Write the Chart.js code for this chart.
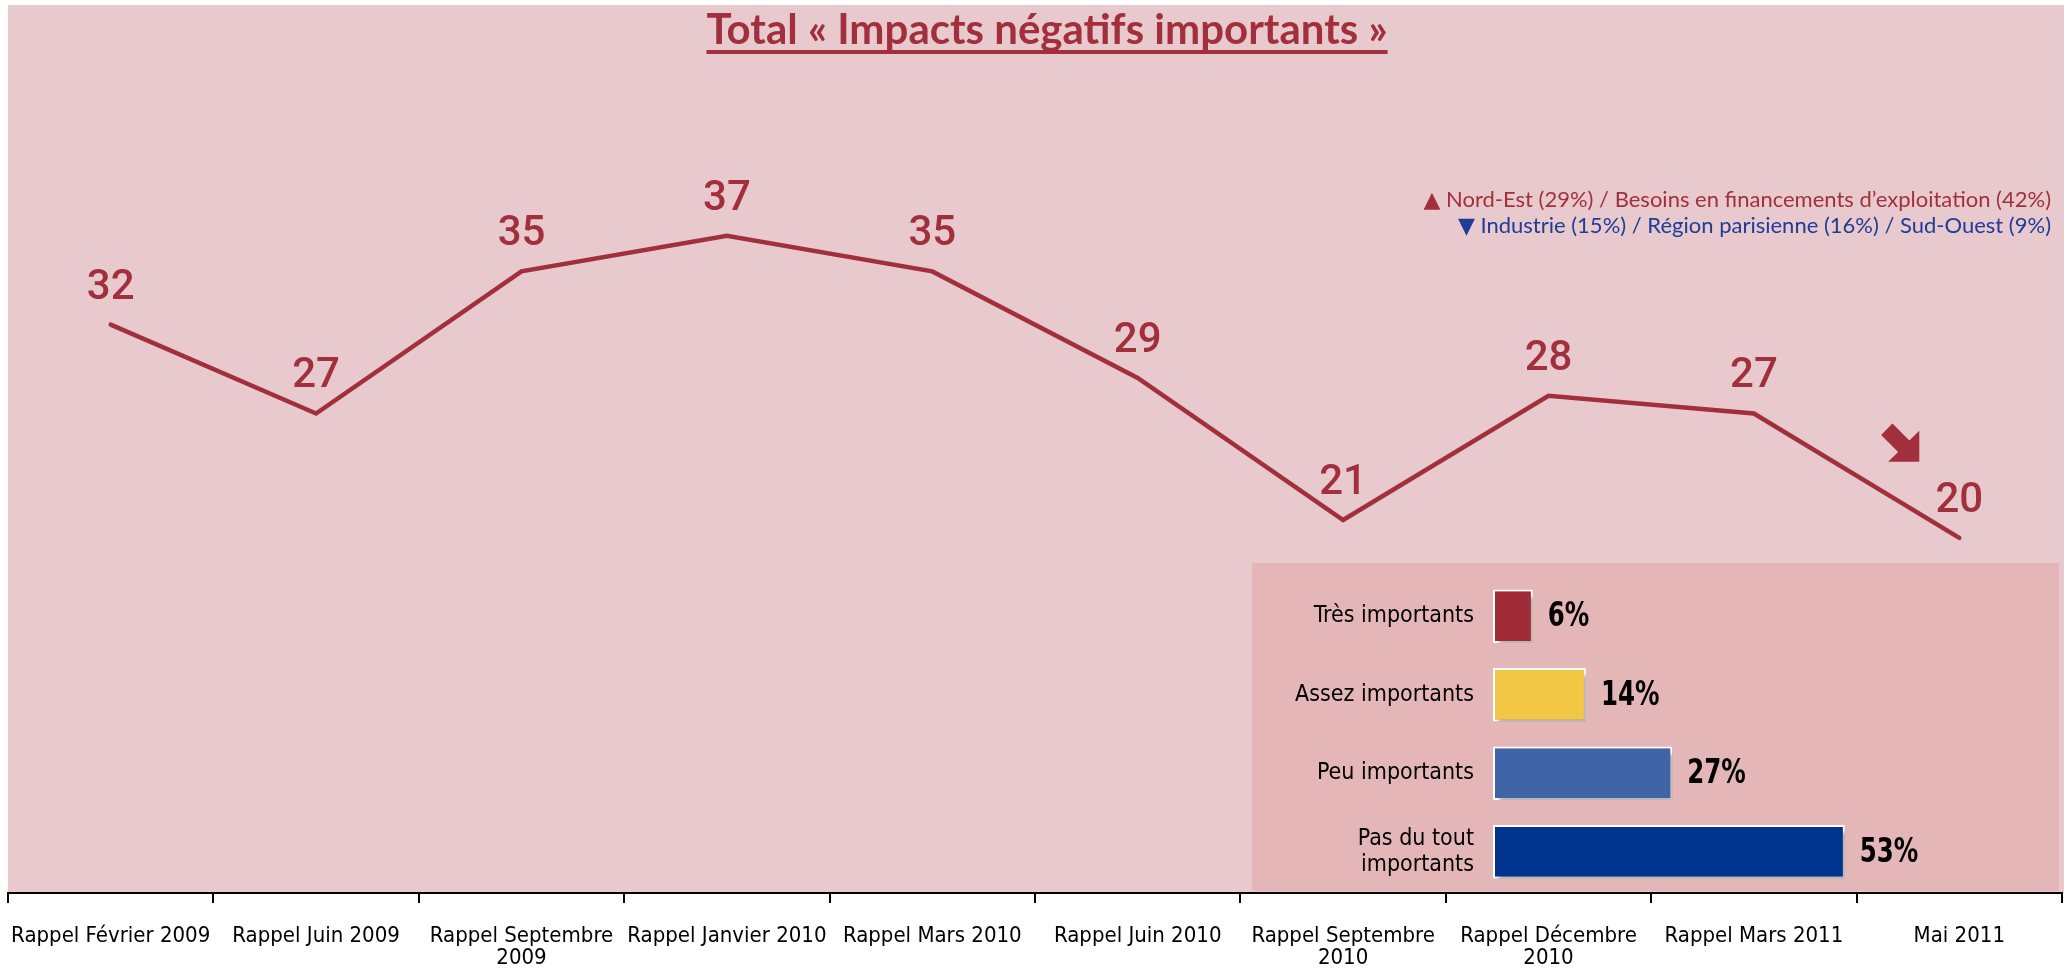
<!DOCTYPE html>
<html>
<head>
<meta charset="utf-8">
<script src="https://cdn.jsdelivr.net/npm/chart.js@4.4.1/dist/chart.umd.min.js"></script>
<style>
  html, body { margin: 0; padding: 0; background: #fff; }
  #wrap { position: relative; width: 2067px; height: 968px; }
  #mainChart { position: absolute; left: 0; top: 0; }
  #inset { position: absolute; left: 1252px; top: 563px; width: 807px; height: 328px; }
</style>
</head>
<body>
<div id="wrap">
  <canvas id="mainChart" width="2067" height="968"></canvas>
  <div id="inset"><canvas id="insetChart" width="807" height="328"></canvas></div>
</div>
<script>
// Waves of the survey
var waveLabels = [
  'Rappel Février 2009', 'Rappel Juin 2009', ['Rappel Septembre', '2009'],
  'Rappel Janvier 2010', 'Rappel Mars 2010', 'Rappel Juin 2010',
  ['Rappel Septembre', '2010'], ['Rappel Décembre', '2010'], 'Rappel Mars 2011', 'Mai 2011'
];
var waveValues = [32, 27, 35, 37, 35, 29, 21, 28, 27, 20];

// Detail for the last wave
var levelLabels = ['Très importants', 'Assez importants', 'Peu importants', ['Pas du tout', 'importants']];
var levelValues = [6, 14, 27, 53];

var titleText = 'Total « Impacts négatifs importants »';
var noteUp = '▲ Nord-Est (29%) / Besoins en financements d’exploitation (42%)';
var noteDown = '▼ Industrie (15%) / Région parisienne (16%) / Sud-Ouest (9%)';

var red = '#A2303C';
var blue = '#1F3C96';
var levelColors = ['#A12C38', '#F2C744', '#3F65A8', '#00348E'];
var narrow = '"Liberation Sans Narrow", "DejaVu Sans Condensed", "Roboto Condensed", sans-serif';

// pink panel behind the line
var panelBg = {
  id: 'panelBg',
  beforeDraw: function (chart) {
    var a = chart.chartArea;
    var ctx = chart.ctx;
    ctx.save();
    ctx.fillStyle = '#E8CACE';
    ctx.fillRect(a.left, a.top, a.right - a.left + 2, a.bottom - a.top);
    ctx.restore();
  }
};

// title, notes, value labels and the trend arrow
var decorations = {
  id: 'decorations',
  afterDatasetsDraw: function (chart) {
    var ctx = chart.ctx;
    var meta = chart.getDatasetMeta(0);
    ctx.save();

    // title (underlined)
    ctx.font = 'bold 42px Lato, "Liberation Sans", sans-serif';
    ctx.fillStyle = red;
    ctx.textAlign = 'center';
    ctx.textBaseline = 'alphabetic';
    var cx = 1047;
    ctx.fillText(titleText, cx, 44);
    var w = ctx.measureText(titleText).width;
    ctx.fillRect(cx - w / 2, 50, w, 4);

    // notes top right
    ctx.font = '22px Lato, "DejaVu Sans", sans-serif';
    ctx.textAlign = 'right';
    ctx.fillStyle = red;
    ctx.fillText(noteUp, 2051, 207);
    ctx.fillStyle = blue;
    ctx.fillText(noteDown, 2051, 233);

    // values above the points
    ctx.font = '500 42px Roboto, sans-serif';
    ctx.fillStyle = red;
    ctx.textAlign = 'center';
    meta.data.forEach(function (pt, i) {
      ctx.fillText(chart.data.datasets[0].data[i], pt.x, pt.y - 26);
    });

    // down arrow near the last wave
    var last = meta.data[meta.data.length - 1];
    ctx.translate(last.x - 40, last.y - 76);
    ctx.rotate(Math.PI / 4);
    ctx.beginPath();
    ctx.moveTo(0, 0);
    ctx.lineTo(-22, -22);
    ctx.lineTo(-22, -8);
    ctx.lineTo(-46, -8);
    ctx.lineTo(-46, 8);
    ctx.lineTo(-22, 8);
    ctx.lineTo(-22, 22);
    ctx.closePath();
    ctx.fill();
    ctx.restore();
  }
};

new Chart(document.getElementById('mainChart'), {
  type: 'line',
  data: {
    labels: waveLabels,
    datasets: [{
      data: waveValues,
      borderColor: red,
      borderWidth: 4.5,
      pointRadius: 0,
      tension: 0,
      borderCapStyle: 'round'
    }]
  },
  options: {
    responsive: false,
    animation: false,
    layout: { padding: { left: 8, right: 5, top: 5, bottom: 0 } },
    plugins: { legend: { display: false }, tooltip: { enabled: false } },
    scales: {
      x: {
        offset: true,
        grid: { display: true, offset: true, drawOnChartArea: false, drawTicks: true, tickLength: 10, color: '#000', lineWidth: 2 },
        border: { display: true, color: '#000', width: 2 },
        ticks: { color: '#000', font: { family: narrow, size: 22, lineHeight: 1.0 }, padding: 22, maxRotation: 0, autoSkip: false },
        afterFit: function (s) {
          s.height = 75;
          s.paddingLeft = 0;
          s.paddingRight = 0;
        }
      },
      y: { display: false, min: 0, max: 50 }
    }
  },
  plugins: [panelBg, decorations]
});

// inset: detail of the last wave
var insetBg = {
  id: 'insetBg',
  beforeDraw: function (chart) {
    var ctx = chart.ctx;
    ctx.save();
    ctx.fillStyle = '#E5B6B8';
    ctx.fillRect(0, 0, chart.width, chart.height);
    ctx.restore();
  }
};
var barShadow = {
  id: 'barShadow',
  beforeDatasetsDraw: function (chart) {
    var ctx = chart.ctx;
    ctx.save();
    ctx.shadowColor = 'rgba(0,0,0,0.28)';
    ctx.shadowOffsetX = 4;
    ctx.shadowOffsetY = 5;
    ctx.shadowBlur = 3;
  },
  afterDatasetsDraw: function (chart) {
    chart.ctx.restore();
  }
};
var barValues = {
  id: 'barValues',
  afterDatasetsDraw: function (chart) {
    var ctx = chart.ctx;
    var meta = chart.getDatasetMeta(0);
    ctx.save();
    ctx.font = 'bold 34px ' + narrow;
    ctx.fillStyle = '#000';
    ctx.textAlign = 'left';
    ctx.textBaseline = 'middle';
    meta.data.forEach(function (bar, i) {
      ctx.save();
      ctx.translate(bar.x + 15, bar.y + 1);
      ctx.scale(0.8, 1);
      ctx.fillText(chart.data.datasets[0].data[i] + '%', 0, 0);
      ctx.restore();
    });
    ctx.restore();
  }
};

new Chart(document.getElementById('insetChart'), {
  type: 'bar',
  data: {
    labels: levelLabels,
    datasets: [{
      data: levelValues,
      backgroundColor: levelColors,
      borderColor: '#fff',
      borderWidth: 2,
      borderSkipped: false,
      barPercentage: 0.68,
      categoryPercentage: 1
    }]
  },
  options: {
    indexAxis: 'y',
    responsive: false,
    animation: false,
    layout: { padding: { left: 0, right: 35, top: 14, bottom: 0 } },
    plugins: { legend: { display: false }, tooltip: { enabled: false } },
    scales: {
      x: { display: false, min: 0, max: 80 },
      y: {
        grid: { display: false, drawTicks: false },
        border: { display: false },
        ticks: { color: '#000', font: { family: narrow, size: 23, lineHeight: 1.13 }, padding: 19 },
        afterFit: function (s) {
          s.width = 241;
          s.paddingTop = 0;
          s.paddingBottom = 0;
        }
      }
    }
  },
  plugins: [insetBg, barShadow, barValues]
});
</script>
</body>
</html>
